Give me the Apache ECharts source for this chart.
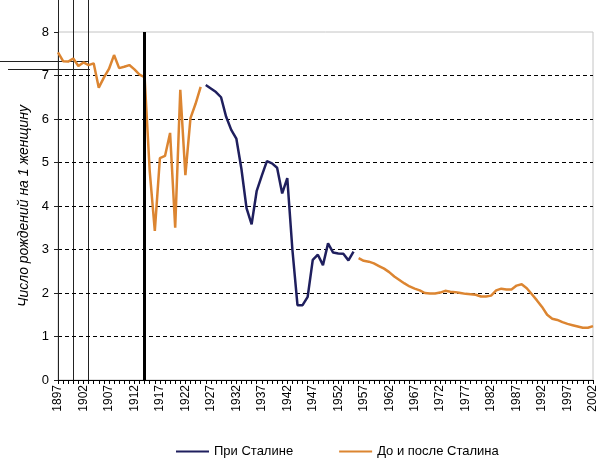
<!DOCTYPE html>
<html>
<head>
<meta charset="utf-8">
<script src="https://cdn.jsdelivr.net/npm/echarts@6/dist/echarts.min.js"></script>
<style>html,body{margin:0;padding:0;background:#fff}#c{width:606px;height:462px}</style>
</head>
<body>
<div id="c"></div>
<script>
// Years on the category axis
var startYear = 1897, endYear = 2002;
var years = [];
for (var y = startYear; y <= endYear; y++) years.push(String(y));

// До Сталина: 1897–1925
var beforeValues = [7.53, 7.33, 7.32, 7.39, 7.22, 7.30, 7.24, 7.28, 6.72, 6.95,
                    7.15, 7.47, 7.17, 7.20, 7.24, 7.14, 7.02, 6.96, 4.80, 3.43,
                    5.10, 5.15, 5.68, 3.50, 6.67, 4.71, 6.02, 6.35, 6.74];
// При Сталине: 1926–1955
var stalinValues = [6.78, 6.70, 6.62, 6.50, 6.05, 5.75, 5.55, 4.85, 3.95, 3.58,
                    4.35, 4.70, 5.03, 4.98, 4.88, 4.29, 4.64, 3.00, 1.72, 1.72,
                    1.91, 2.76, 2.88, 2.64, 3.14, 2.93, 2.91, 2.90, 2.75, 2.95];
// После Сталина: 1956–2002
var afterValues = [2.80, 2.74, 2.72, 2.68, 2.62, 2.56, 2.48, 2.38, 2.30, 2.22,
                   2.15, 2.10, 2.06, 2.00, 1.99, 1.99, 2.01, 2.05, 2.03, 2.02,
                   2.00, 1.98, 1.97, 1.96, 1.92, 1.92, 1.94, 2.06, 2.10, 2.08,
                   2.08, 2.17, 2.20, 2.11, 1.97, 1.83, 1.68, 1.50, 1.41, 1.38,
                   1.33, 1.29, 1.26, 1.23, 1.20, 1.20, 1.24];
var yTicks = [0, 1, 2, 3, 4, 5, 6, 7, 8];
var seriesNames = ['При Сталине', 'До и после Сталина'];
var yName = 'Число рождений на 1 женщину';
var markYear = '1914';

function pad(vals, firstYear) {
  var out = years.map(function () { return null; });
  var off = firstYear - startYear;
  vals.forEach(function (v, i) { out[off + i] = v; });
  return out;
}
var stalinData = pad(stalinValues, 1926);
var otherData = pad(beforeValues, 1897);
var afterPadded = pad(afterValues, 1956);
afterPadded.forEach(function (v, i) { if (v !== null) otherData[i] = v; });

var navy = '#1f1f5e', orange = '#dc8531';
var chart = echarts.init(document.getElementById('c'), null, {renderer: 'canvas'});
var font = 'Liberation Sans, Arial, sans-serif';
var thin = {stroke: '#222', lineWidth: 1};
chart.setOption({
  animation: false,
  backgroundColor: '#fff',
  textStyle: {fontFamily: font},
  grid: {left: 58, right: 13, top: 32, bottom: 82, show: true, borderColor: '#c4c4c4', borderWidth: 1},
  legend: {
    left: 171, top: 440, itemWidth: 33, itemHeight: 2, itemGap: 46,
    textStyle: {fontFamily: font, fontSize: 13, color: '#000'},
    data: [
      {name: seriesNames[0], icon: 'rect', itemStyle: {color: navy}},
      {name: seriesNames[1], icon: 'rect', itemStyle: {color: orange}}
    ]
  },
  xAxis: {
    type: 'category', data: years, boundaryGap: false,
    axisLine: {lineStyle: {color: '#000', width: 1}},
    axisTick: {show: true, interval: 0, length: 4, lineStyle: {color: '#000'}},
    axisLabel: {interval: 4, rotate: 90, fontSize: 12, color: '#000', fontFamily: font, margin: 5},
    splitLine: {show: false}
  },
  yAxis: {
    type: 'value', min: yTicks[0], max: yTicks[yTicks.length - 1], interval: 1,
    name: yName, nameLocation: 'middle', nameGap: 27,
    nameTextStyle: {fontFamily: font, fontSize: 14, fontStyle: 'italic', color: '#000'},
    axisLine: {show: true, lineStyle: {color: '#222', width: 1}},
    axisTick: {show: true, length: 4, lineStyle: {color: '#222'}},
    axisLabel: {fontSize: 13, color: '#000', fontFamily: font, margin: 9},
    splitLine: {show: true, showMinLine: false, showMaxLine: false, lineStyle: {color: '#000', type: [4, 3], width: 1}}
  },
  graphic: [
    {type: 'line', shape: {x1: 58.5, y1: 0, x2: 58.5, y2: 32}, style: thin, silent: true},
    {type: 'line', shape: {x1: 73.5, y1: 0, x2: 73.5, y2: 380}, style: thin, silent: true},
    {type: 'line', shape: {x1: 88.5, y1: 0, x2: 88.5, y2: 380}, style: thin, silent: true},
    {type: 'line', shape: {x1: 0, y1: 61.5, x2: 88, y2: 61.5}, style: thin, silent: true},
    {type: 'line', shape: {x1: 8, y1: 69.5, x2: 90, y2: 69.5}, style: thin, silent: true}
  ],
  series: [
    {
      name: seriesNames[0], type: 'line', data: stalinData, symbol: 'none', connectNulls: false,
      lineStyle: {color: navy, width: 2.5}, itemStyle: {color: navy}, z: 3
    },
    {
      name: seriesNames[1], type: 'line', data: otherData, symbol: 'none', connectNulls: false,
      lineStyle: {color: orange, width: 2.5}, itemStyle: {color: orange}, z: 2,
      markLine: {
        silent: true, symbol: ['none', 'none'], label: {show: false},
        lineStyle: {color: '#000', width: 3, type: 'solid'},
        data: [{xAxis: markYear}]
      }
    }
  ]
});
</script>
</body>
</html>
